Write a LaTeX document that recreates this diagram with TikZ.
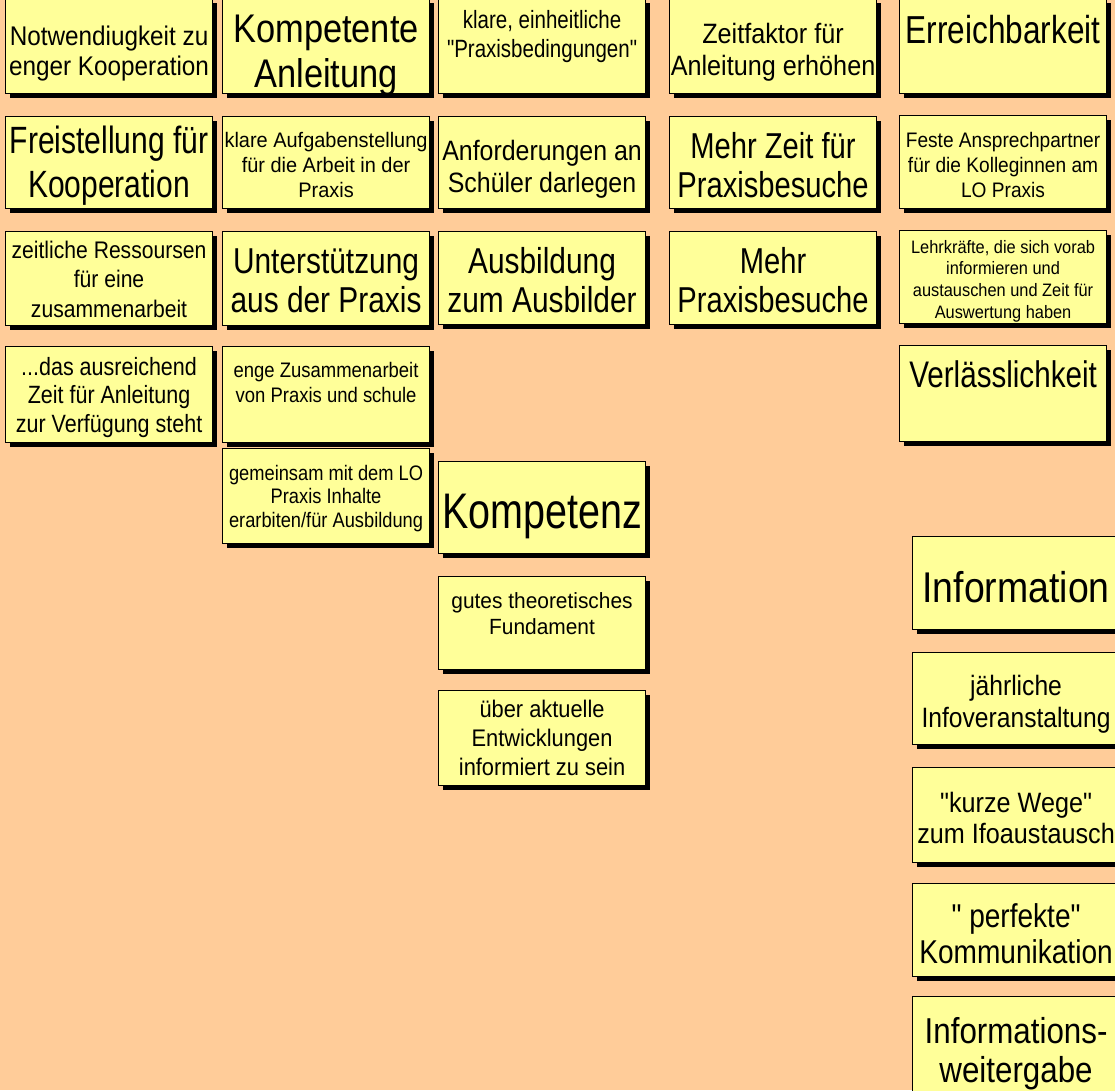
\documentclass[tikz,border=0pt]{standalone}
\usepackage{fontspec}
\setmainfont{Liberation Sans}[Ligatures=TeXOff]
\usetikzlibrary{shadows}
\definecolor{bgpeach}{HTML}{FFCC99}
\definecolor{boxyellow}{HTML}{FFFF99}
\newcommand\sdq{\char34\relax}
\tikzset{
  card/.style={draw=black, line width=1.1pt, fill=boxyellow, inner sep=0pt, anchor=north west,
    drop shadow={shadow xshift=4.5pt, shadow yshift=-4.5pt, fill=black, opacity=1}},
  cardtext/.style={anchor=base, inner sep=0pt}
}
% #1 name, #2 top-left, #3 height, #4 font size, #5 line skip, #6 first baseline below top, #7 x-stretch, #8 text
\newcommand\cardbox[8]{%
  \node[card, minimum width=207pt, minimum height=#3pt] (#1) at (#2) {};
  \node[cardtext] (#1t) at ([yshift=-#6pt]#1.north)
    {\fontsize{#4}{#5}\selectfont\scalebox{#7}[1]{\begin{tabular}[t]{@{}c@{}}#8\end{tabular}}};
}
\begin{document}
\begin{tikzpicture}[x=1pt,y=-1pt]
\path[fill=bgpeach, use as bounding box] (0,0) rectangle (1115,1090);
\clip (0,0) rectangle (1115,1090);

\cardbox{a1}{5,-2}{95}{27}{30}{47}{0.9}{Notwendiugkeit zu\\enger Kooperation}
\cardbox{a2}{5,116}{92}{38}{44}{37}{0.79}{Freistellung für\\Kooperation}
\cardbox{a3}{5,231}{94}{24}{29.5}{27}{0.88}{zeitliche Ressoursen\\für eine\\zusammenarbeit}
\cardbox{a4}{5,346}{96}{25}{28.5}{29}{0.86}{...das ausreichend\\Zeit für Anleitung\\zur Verfügung steht}

\cardbox{b1}{222,-2}{95}{40}{45}{44}{0.86}{Kompetente\\Anleitung}
\cardbox{b2}{222,116}{92}{21}{25}{31}{0.95}{klare Aufgabenstellung\\für die Arbeit in der\\Praxis}
\cardbox{b3}{222,231}{94}{36}{39}{42}{0.83}{Unterstützung\\aus der Praxis}
\cardbox{b4}{222,346}{96}{21}{25}{31}{0.88}{enge Zusammenarbeit\\von Praxis und schule}
\cardbox{b5}{222,448}{95}{21}{23.5}{32}{0.87}{gemeinsam mit dem LO\\Praxis Inhalte\\erarbiten/für Ausbildung}

\cardbox{c1}{438,-2}{95}{25}{29}{30}{0.82}{klare, einheitliche\\\sdq Praxisbedingungen\sdq}
\cardbox{c2}{438,116}{92}{28}{32}{44}{0.89}{Anforderungen an\\Schüler darlegen}
\cardbox{c3}{438,231}{93}{36}{39}{42}{0.83}{Ausbildung\\zum Ausbilder}
\cardbox{c4}{438,461}{92}{50}{55}{67}{0.79}{Kompetenz}
\cardbox{c5}{438,576}{93}{22}{26}{32}{0.95}{gutes theoretisches\\Fundament}
\cardbox{c6}{438,690}{95}{24}{29}{27}{0.91}{über aktuelle\\Entwicklungen\\informiert zu sein}

\cardbox{d1}{669,-2}{95}{28}{32}{45}{0.9}{Zeitfaktor für\\Anleitung erhöhen}
\cardbox{d2}{669,116}{92}{36}{39}{42}{0.81}{Mehr Zeit für\\Praxisbesuche}
\cardbox{d3}{669,231}{93}{36}{39}{42}{0.81}{Mehr\\Praxisbesuche}

\cardbox{e1}{899,-2}{95}{39}{45}{45}{0.81}{Erreichbarkeit}
\cardbox{e2}{899,115}{93}{21}{25}{32}{0.91}{Feste Ansprechpartner\\für die Kolleginnen am\\LO Praxis}
\cardbox{e3}{899,230}{93}{18}{21.7}{23}{0.91}{Lehrkräfte, die sich vorab\\informieren und\\austauschen und Zeit für\\Auswertung haben}
\cardbox{e4}{899,345}{96}{37}{42}{42}{0.8}{Verlässlichkeit}

\cardbox{f1}{912,536}{93}{43}{48}{66}{0.87}{Information}
\cardbox{f2}{912,652}{92}{28}{32}{43}{0.88}{jährliche\\Infoveranstaltung}
\cardbox{f3}{912,767}{95}{28}{31}{45}{0.9}{\sdq kurze Wege\sdq\\zum Ifoaustausch}
\cardbox{f4}{912,883}{93}{33}{36}{44}{0.85}{\sdq\ perfekte\sdq\\Kommunikation}
\cardbox{f5}{912,996}{100}{36}{39}{47}{0.87}{Informations-\\weitergabe}
\end{tikzpicture}
\end{document}
